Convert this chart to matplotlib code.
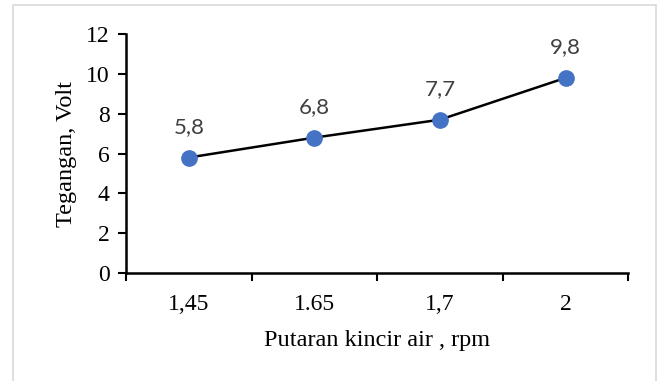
import matplotlib.pyplot as plt
from matplotlib.patches import Rectangle

categories = ['1,45', '1.65', '1,7', '2']
values = [5.8, 6.8, 7.7, 9.8]
value_labels = ['5,8', '6,8', '7,7', '9,8']

fig = plt.figure(figsize=(6.6, 3.81), dpi=100)
ax = fig.add_axes([0.191, 0.2835, 0.761, 0.627])

# border around the chart area (Excel style)
fig.patches.append(Rectangle((13 / 660, -0.01), 643 / 660, 1 - 5 / 381 + 0.01,
                             transform=fig.transFigure, fill=False,
                             edgecolor='#d9d9d9', lw=1.2))

x = list(range(len(categories)))
ax.plot(x, values, color='black', lw=1.8, marker='o', markersize=11,
        markerfacecolor='#4472c4', markeredgecolor='#4472c4', zorder=3)

for xi, v, lab in zip(x, values, value_labels):
    ax.annotate(lab, (xi, v), xytext=(0, 15), textcoords='offset points',
                ha='center', va='bottom', fontsize=16, color='#404040',
                family=['Lato', 'DejaVu Sans'])

ax.set_xlim(-0.5, len(categories) - 0.5)
ax.set_ylim(0, 12)
ax.set_yticks(range(0, 13, 2))
ax.set_xticks([i - 0.5 for i in range(len(categories) + 1)])
ax.set_xticklabels([])
ax.set_xticks(x, minor=True)
ax.set_xticklabels(categories, minor=True)
ax.tick_params(axis='x', which='minor', length=0, pad=15)
ax.tick_params(axis='x', which='major', length=6, width=1.5, direction='out')
ax.tick_params(axis='y', length=6, width=1.5, direction='out', pad=6)

for lab in ax.get_xticklabels(minor=True) + ax.get_yticklabels():
    lab.set_fontfamily('Liberation Serif')
    lab.set_fontsize(17)

for s in ['top', 'right']:
    ax.spines[s].set_visible(False)
for s in ['left', 'bottom']:
    ax.spines[s].set_linewidth(1.8)

ax.set_xlabel('Putaran kincir air , rpm', fontfamily='Liberation Serif',
              fontsize=17.5, labelpad=11)
ax.set_ylabel('Tegangan, Volt', fontfamily='Liberation Serif',
              fontsize=17.5, labelpad=6)

fig.savefig('out.png', dpi=100)
